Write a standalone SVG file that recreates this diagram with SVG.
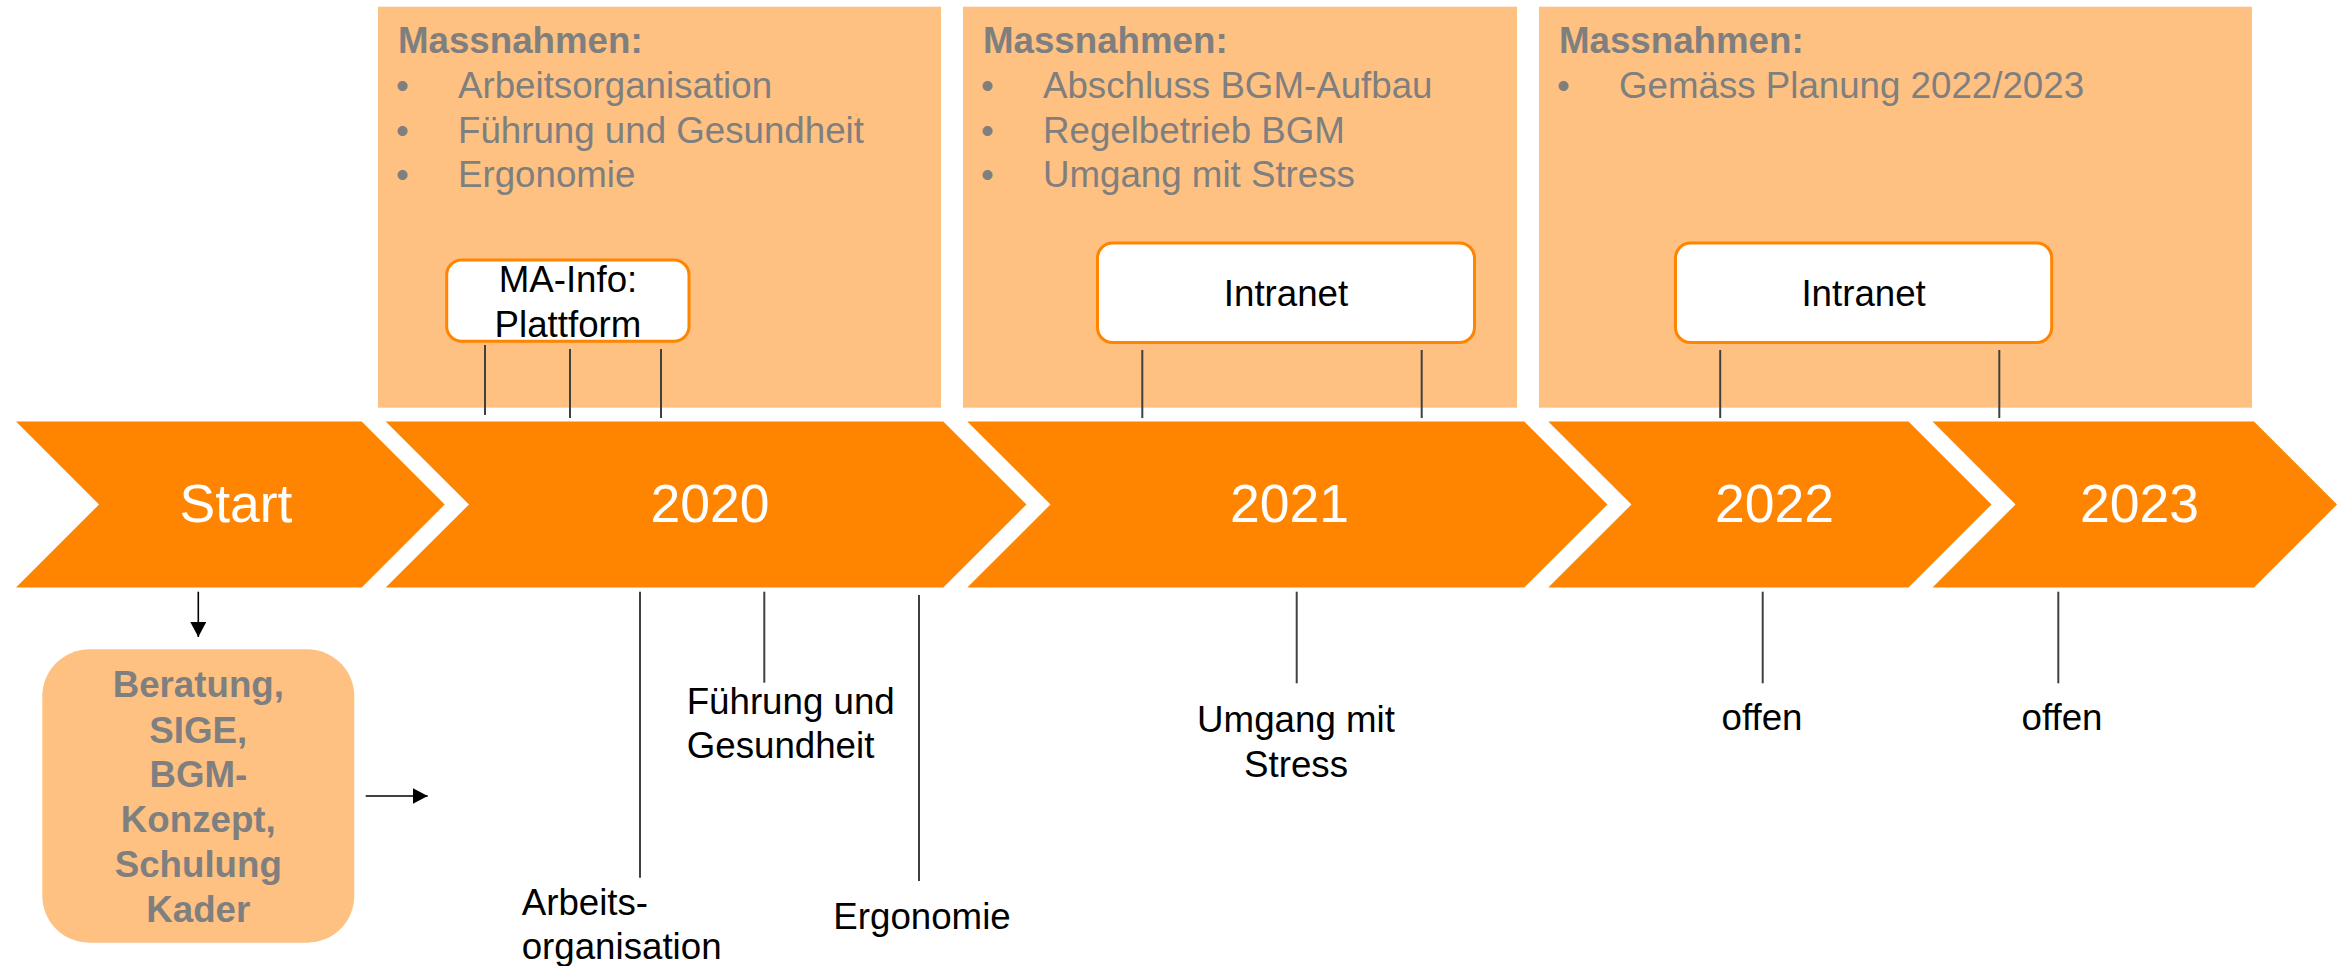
<svg xmlns="http://www.w3.org/2000/svg" width="2351" height="966" viewBox="0 0 2351 966">
<defs>
<style>
.chev{fill:#FF8400;}
.panel{fill:#FEC182;}
.lbl{font-family:"Liberation Sans",Arial,sans-serif;font-size:53.5px;fill:#FFFFFF;text-anchor:middle;}
.head{font-family:"Liberation Sans",Arial,sans-serif;font-size:36.7px;font-weight:bold;fill:#7F7F7F;}
.item{font-family:"Liberation Sans",Arial,sans-serif;font-size:36.7px;fill:#7F7F7F;}
.box{fill:#FFFFFF;stroke:#FF8400;stroke-width:3;}
.btxt{font-family:"Liberation Sans",Arial,sans-serif;font-size:36.7px;fill:#000000;text-anchor:middle;}
.note{font-family:"Liberation Sans",Arial,sans-serif;font-size:36.7px;fill:#000000;}
.beratung{font-family:"Liberation Sans",Arial,sans-serif;font-size:36.7px;font-weight:bold;fill:#7F7F7F;text-anchor:middle;}
.tick{stroke:#404040;stroke-width:2;fill:none;}
.arrow{stroke:#000000;stroke-width:1.6;fill:none;marker-end:url(#arr);}
</style>
<marker id="arr" markerUnits="userSpaceOnUse" markerWidth="16" markerHeight="16" refX="15" refY="8" orient="auto">
<path d="M0,0 L15,8 L0,16 Z" fill="#000000"/>
</marker>
</defs>

<g id="panel-2020">
<rect class="panel" x="378" y="6.7" width="563" height="401"/>
<text class="head" x="398" y="53">Massnahmen:</text>
<text class="item" x="396" y="98">•</text><text class="item" x="458" y="98">Arbeitsorganisation</text>
<text class="item" x="396" y="143">•</text><text class="item" x="458" y="143">Führung und Gesundheit</text>
<text class="item" x="396" y="187">•</text><text class="item" x="458" y="187">Ergonomie</text>
</g>
<g id="panel-2021">
<rect class="panel" x="963" y="6.7" width="554" height="401"/>
<text class="head" x="983" y="53">Massnahmen:</text>
<text class="item" x="981" y="98">•</text><text class="item" x="1043" y="98">Abschluss BGM-Aufbau</text>
<text class="item" x="981" y="143">•</text><text class="item" x="1043" y="143">Regelbetrieb BGM</text>
<text class="item" x="981" y="187">•</text><text class="item" x="1043" y="187">Umgang mit Stress</text>
</g>
<g id="panel-2022">
<rect class="panel" x="1539" y="6.7" width="713" height="401"/>
<text class="head" x="1559" y="53">Massnahmen:</text>
<text class="item" x="1557" y="98">•</text><text class="item" x="1619" y="98">Gemäss Planung 2022/2023</text>
</g>

<g id="box-mainfo">
<rect class="box" x="446.7" y="260" width="242.3" height="81.3" rx="15" ry="15"/>
<text class="btxt" x="568" y="292.3">MA-Info:</text>
<text class="btxt" x="568" y="336.5">Plattform</text>
</g>
<g id="box-intranet-2021">
<rect class="box" x="1097.5" y="243" width="377" height="99.5" rx="15" ry="15"/>
<text class="btxt" x="1286" y="306">Intranet</text>
</g>
<g id="box-intranet-2022">
<rect class="box" x="1675.5" y="243" width="376.2" height="99.5" rx="15" ry="15"/>
<text class="btxt" x="1863.6" y="306">Intranet</text>
</g>

<g id="chev-start">
<polygon class="chev" points="16,421.5 361.7,421.5 444.7,504.5 361.7,587.5 16,587.5 99,504.5"/>
<text class="lbl" x="236" y="521.7">Start</text>
</g>
<g id="chev-2020">
<polygon class="chev" points="385.7,421.5 943.3,421.5 1026.5,504.5 943.3,587.5 385.7,587.5 469,504.5"/>
<text class="lbl" x="710" y="521.7">2020</text>
</g>
<g id="chev-2021">
<polygon class="chev" points="967.3,421.5 1524.3,421.5 1607.5,504.5 1524.3,587.5 967.3,587.5 1050.5,504.5"/>
<text class="lbl" x="1289.5" y="521.7">2021</text>
</g>
<g id="chev-2022">
<polygon class="chev" points="1548.3,421.5 1908.5,421.5 1991.5,504.5 1908.5,587.5 1548.3,587.5 1631.5,504.5"/>
<text class="lbl" x="1774.5" y="521.7">2022</text>
</g>
<g id="chev-2023">
<polygon class="chev" points="1932.5,421.5 2254,421.5 2337,504.5 2254,587.5 1932.5,587.5 2015.5,504.5"/>
<text class="lbl" x="2139.5" y="521.7">2023</text>
</g>

<g id="box-beratung">
<rect x="42.3" y="649.3" width="312" height="293.4" rx="47" ry="47" fill="#FEC182"/>
<text class="beratung" x="198.3" y="697.3">Beratung,</text>
<text class="beratung" x="198.3" y="742.7">SIGE,</text>
<text class="beratung" x="198.3" y="787.3">BGM-</text>
<text class="beratung" x="198.3" y="832.3">Konzept,</text>
<text class="beratung" x="198.3" y="877.3">Schulung</text>
<text class="beratung" x="198.3" y="921.7">Kader</text>
</g>

<g id="labels">
<text class="note" x="686.7" y="714">Führung und</text>
<text class="note" x="686.7" y="758.3">Gesundheit</text>
<text class="note" x="521.7" y="915">Arbeits-</text>
<text class="note" x="521.7" y="959.3">organisation</text>
<text class="note" x="833.3" y="929">Ergonomie</text>
<text class="note" x="1296" y="731.7" text-anchor="middle">Umgang mit</text>
<text class="note" x="1296" y="776.7" text-anchor="middle">Stress</text>
<text class="note" x="1762" y="730" text-anchor="middle">offen</text>
<text class="note" x="2062" y="730" text-anchor="middle">offen</text>
</g>

<g id="connectors">
<line class="tick" x1="485" y1="345" x2="485" y2="415"/>
<line class="tick" x1="570" y1="349" x2="570" y2="418"/>
<line class="tick" x1="661" y1="349" x2="661" y2="418"/>
<line class="tick" x1="1142.3" y1="350" x2="1142.3" y2="418"/>
<line class="tick" x1="1421.7" y1="350" x2="1421.7" y2="418"/>
<line class="tick" x1="1720.2" y1="350" x2="1720.2" y2="418"/>
<line class="tick" x1="1999.3" y1="350" x2="1999.3" y2="418"/>
<line class="tick" x1="640" y1="591.7" x2="640" y2="877.7"/>
<line class="tick" x1="764.3" y1="591.7" x2="764.3" y2="682.7"/>
<line class="tick" x1="919" y1="595" x2="919" y2="881"/>
<line class="tick" x1="1296.7" y1="591.7" x2="1296.7" y2="683.3"/>
<line class="tick" x1="1762.7" y1="591.7" x2="1762.7" y2="683.3"/>
<line class="tick" x1="2058.3" y1="591.7" x2="2058.3" y2="683.3"/>
<line class="arrow" x1="198.3" y1="591.7" x2="198.3" y2="637"/>
<line class="arrow" x1="365.7" y1="796" x2="427.7" y2="796"/>
</g>
</svg>
